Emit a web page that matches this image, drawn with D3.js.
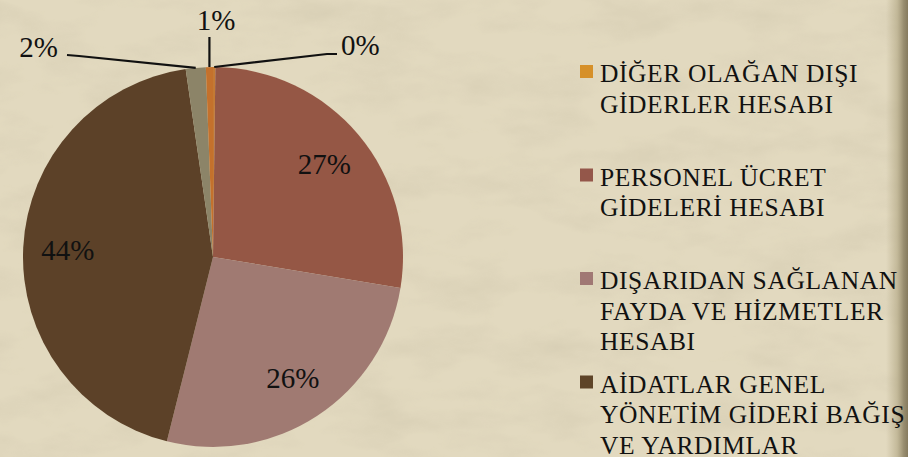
<!DOCTYPE html>
<html>
<head>
<meta charset="utf-8">
<script src="https://cdn.jsdelivr.net/npm/d3@7"></script>
<style>
  html, body { margin: 0; padding: 0; background: #e2d9bf; }
  svg { display: block; }
</style>
</head>
<body>
<div id="chart"></div>
<script>
// slice order, clockwise from 12 o'clock
var sliceNames  = ["", "PERSONEL ÜCRET GİDELERİ HESABI", "DIŞARIDAN SAĞLANAN FAYDA VE HİZMETLER HESABI",
                   "AİDATLAR GENEL YÖNETİM GİDERİ BAĞIŞ VE YARDIMLAR", "", "DİĞER OLAĞAN DIŞI GİDERLER HESABI"];
var sliceValues = [0.2, 27.4, 26.3, 43.8, 1.7, 0.6];
var sliceColors = ["#c47a34", "#955745", "#a07a72", "#5c4128", "#8c8468", "#c4712c"];

// legend as shown
var legendLines  = [["DİĞER OLAĞAN DIŞI", "GİDERLER HESABI"],
                    ["PERSONEL ÜCRET", "GİDELERİ HESABI"],
                    ["DIŞARIDAN SAĞLANAN", "FAYDA VE HİZMETLER", "HESABI"],
                    ["AİDATLAR GENEL", "YÖNETİM GİDERİ BAĞIŞ", "VE YARDIMLAR"]];
var legendColors = ["#d69029", "#94574a", "#a07874", "#5e4428"];

var W = 908, H = 457;
var cx = 213, cy = 257, R = 190;
var FONT = "'Liberation Serif'";

// outside label layout for the tiny slices (index -> elbow / text)
var outside = {
  0: { elbow: [327, 54], end: [337, 54], text: [341, 55], anchor: "start" },
  4: { elbow: [79, 56],  end: [67, 55],  text: [58, 57],  anchor: "end" },
  5: { elbow: null,      end: [210, 37], text: [216, 30], anchor: "middle" }
};

var svg = d3.select("#chart").append("svg").attr("width", W).attr("height", H);

// parchment background
var defs = svg.append("defs");
var f = defs.append("filter").attr("id", "paper").attr("x", 0).attr("y", 0).attr("width", 1).attr("height", 1);
f.append("feTurbulence").attr("type", "fractalNoise").attr("baseFrequency", "0.012 0.03").attr("numOctaves", 4).attr("seed", 7).attr("result", "n");
f.append("feColorMatrix").attr("in", "n").attr("type", "matrix")
  .attr("values", "0 0 0 0 0.45  0 0 0 0 0.40  0 0 0 0 0.28  0 0 0 -1.1 0.62").attr("result", "c");
f.append("feComposite").attr("in", "c").attr("in2", "SourceGraphic").attr("operator", "in");

var edge = defs.append("linearGradient").attr("id", "edge").attr("x1", 0).attr("x2", 1);
edge.append("stop").attr("offset", "0").attr("stop-color", "#b3a886").attr("stop-opacity", 0);
edge.append("stop").attr("offset", "0.5").attr("stop-color", "#b0a582").attr("stop-opacity", 0.6);
edge.append("stop").attr("offset", "0.8").attr("stop-color", "#958a6c").attr("stop-opacity", 0.95);
edge.append("stop").attr("offset", "1").attr("stop-color", "#857a5e").attr("stop-opacity", 1);

svg.append("rect").attr("width", W).attr("height", H).attr("fill", "#e2d9bf");
svg.append("rect").attr("width", W).attr("height", H).attr("fill", "#e2d9bf").attr("filter", "url(#paper)").attr("opacity", 0.35);
svg.append("rect").attr("x", 886).attr("width", 22).attr("height", H).attr("fill", "url(#edge)");

// pie
var pie = d3.pie().sort(null).value(function (d) { return d; }).startAngle(0).endAngle(2 * Math.PI);
var arc = d3.arc().innerRadius(0).outerRadius(R);
var labelArc = d3.arc().innerRadius(R * 0.765).outerRadius(R * 0.765);
var arcs = pie(sliceValues);

var g = svg.append("g").attr("transform", "translate(" + cx + "," + cy + ")");
g.selectAll("path.slice").data(arcs).enter().append("path")
  .attr("class", "slice")
  .attr("d", arc)
  .attr("fill", function (d, i) { return sliceColors[i]; });

function pctText(v) { return Math.round(v) + "%"; }

// inside labels
g.selectAll("text.inlab").data(arcs.filter(function (d, i) { return !outside[i]; })).enter().append("text")
  .attr("class", "inlab")
  .attr("transform", function (d) { return "translate(" + labelArc.centroid(d) + ")"; })
  .attr("text-anchor", "middle")
  .attr("dy", "0.34em")
  .attr("font-size", 29)
  .attr("fill", "#111")
  .style("font-family", FONT)
  .text(function (d) { return pctText(d.value); });

// outside labels with leader lines
arcs.forEach(function (d, i) {
  var o = outside[i];
  if (!o) return;
  var a = (d.startAngle + d.endAngle) / 2;
  var p0 = [cx + Math.sin(a) * R, cy - Math.cos(a) * R];
  var pts = [p0];
  if (o.elbow) pts.push(o.elbow);
  pts.push(o.end);
  if (i === 5) pts[pts.length - 1] = [p0[0], o.end[1]];
  svg.append("path")
    .attr("d", d3.line()(pts))
    .attr("fill", "none").attr("stroke", "#111").attr("stroke-width", 2.2);
  svg.append("text")
    .attr("x", o.text[0]).attr("y", o.text[1])
    .attr("text-anchor", o.anchor)
    .attr("font-size", 29)
    .attr("fill", "#111")
    .style("font-family", FONT)
    .text(pctText(d.value));
});

// legend
var lg = svg.append("g");
var item = lg.selectAll("g.item").data(legendLines).enter().append("g")
  .attr("class", "item")
  .attr("transform", function (d, i) { return "translate(580," + (82 + i * 103.5) + ")"; });
item.append("rect")
  .attr("x", 0).attr("y", -17).attr("width", 13).attr("height", 13)
  .attr("fill", function (d, i) { return legendColors[i]; });
item.selectAll("text").data(function (d) { return d; }).enter().append("text")
  .attr("x", 20).attr("y", function (d, j) { return j * 30.5; })
  .attr("font-size", 25.5)
  .attr("fill", "#111")
  .style("font-family", FONT)
  .style("letter-spacing", "0.6px")
  .text(function (d) { return d; });
</script>
</body>
</html>
